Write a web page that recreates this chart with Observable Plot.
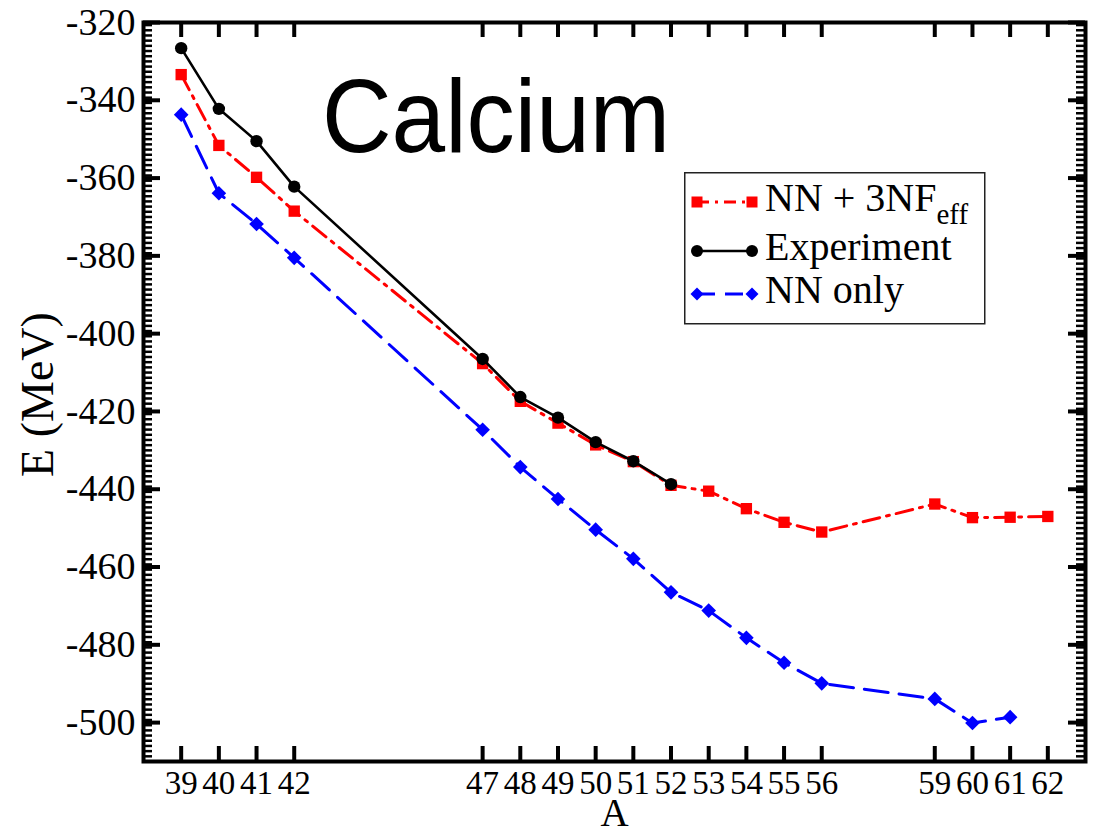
<!DOCTYPE html>
<html>
<head>
<meta charset="utf-8">
<script src="https://cdn.jsdelivr.net/npm/d3@7"></script>
<script src="https://cdn.jsdelivr.net/npm/@observablehq/plot@0.6"></script>
<style>
  html, body { margin: 0; padding: 0; background: #fff; }
  #wrap { position: relative; width: 1093px; height: 834px; }
  #wrap > svg.overlay { position: absolute; left: 0; top: 0; pointer-events: none; }
</style>
</head>
<body>
<div id="wrap"></div>
<script>
// ---- data ----
const expA   = [39, 40, 41, 42, 47, 48, 49, 50, 51, 52];
const expE   = [-326.6, -342.2, -350.5, -362.2, -406.5, -416.3, -421.6, -427.9, -432.8, -438.7];

const nn3nfA = [39, 40, 41, 42, 47, 48, 49, 50, 51, 52, 53, 54, 55, 56, 59, 60, 61, 62];
const nn3nfE = [-333.4, -351.6, -359.8, -368.5, -407.7, -417.4, -423.0, -428.6, -432.9, -439.0,
                -440.5, -445.0, -448.5, -451.0, -443.8, -447.3, -447.2, -447.0];

const nnOnlyA = [39, 40, 41, 42, 47, 48, 49, 50, 51, 52, 53, 54, 55, 56, 59, 60, 61];
const nnOnlyE = [-343.7, -363.9, -371.8, -380.5, -424.7, -434.3, -442.5, -450.4, -457.9, -466.5,
                 -471.2, -478.2, -484.6, -489.9, -493.9, -500.1, -498.6];

const xTicks = [39, 40, 41, 42, 47, 48, 49, 50, 51, 52, 53, 54, 55, 56, 59, 60, 61, 62];
const yTicks = [-500, -480, -460, -440, -420, -400, -380, -360, -340, -320];
const xDomain = [38, 63];
const yDomain = [-510, -320];

const seriesLabels = ["NN + 3NF", "Experiment", "NN only"];
const titleText = "Calcium";
const xLabel = "A";
const yLabel = "E (MeV)";

// ---- build tables ----
const expData = expA.map((a, i) => ({A: a, E: expE[i]}));
const nn3nfData = nn3nfA.map((a, i) => ({A: a, E: nn3nfE[i]}));
const nnOnlyData = nnOnlyA.map((a, i) => ({A: a, E: nnOnlyE[i]}));
const minorY = d3.range(0, 143).map(i => -510 + i * 4 / 3)
  .filter(v => v <= -320.01 && !yTicks.some(t => Math.abs(t - v) < 0.3));

const W = 1093, H = 834;
const mL = 143, mR = 8, mT = 22, mB = 73;
const fw = W - mL - mR, fh = H - mT - mB;

const chart = Plot.plot({
  width: W, height: H,
  marginLeft: mL, marginRight: mR, marginTop: mT, marginBottom: mB,
  style: {fontFamily: "'Liberation Serif', 'Times New Roman', serif", color: "black", background: "white"},
  x: {domain: xDomain},
  y: {domain: yDomain},
  marks: [
    // tick labels
    Plot.axisX({anchor: "bottom", ticks: xTicks, tickSize: 0, tickPadding: 9, fontSize: 33, label: null, tickFormat: d => String(d)}),
    Plot.axisY({anchor: "left", ticks: yTicks, tickSize: 0, tickPadding: 8, fontSize: 38, label: null, tickFormat: d => String(d)}),
    // inward minor ticks (left & right)
    Plot.ruleY(minorY, {y: d => d, insetRight: fw - 9, strokeWidth: 2.5}),
    Plot.ruleY(minorY, {y: d => d, insetLeft: fw - 9, strokeWidth: 2.5}),
    // inward major ticks
    Plot.ruleY(yTicks, {y: d => d, insetRight: fw - 17, strokeWidth: 4}),
    Plot.ruleY(yTicks, {y: d => d, insetLeft: fw - 17, strokeWidth: 4}),
    Plot.ruleX(xTicks, {x: d => d, insetTop: fh - 15, strokeWidth: 4}),
    Plot.ruleX(xTicks, {x: d => d, insetBottom: fh - 15, strokeWidth: 4}),
    // series
    Plot.line(nn3nfData, {x: "A", y: "E", stroke: "#ff0000", strokeWidth: 3, strokeDasharray: "17,7,3,7"}),
    Plot.dot(nn3nfData, {x: "A", y: "E", symbol: "square", fill: "#ff0000", r: 6.4}),
    Plot.line(nnOnlyData, {x: "A", y: "E", stroke: "#0000ff", strokeWidth: 3, strokeDasharray: "24,11"}),
    Plot.dot(nnOnlyData, {x: "A", y: "E", symbol: "diamond2", fill: "#0000ff", r: 6.6}),
    Plot.line(expData, {x: "A", y: "E", stroke: "black", strokeWidth: 2.6}),
    Plot.dot(expData, {x: "A", y: "E", symbol: "circle", fill: "black", r: 6.2}),
    // frame
    Plot.frame({stroke: "black", strokeWidth: 4}),
    // x axis title
    Plot.text([xLabel], {frameAnchor: "bottom", lineAnchor: "top", dy: 37, fontSize: 39, fill: "black"})
  ]
});

const wrap = document.getElementById("wrap");
wrap.appendChild(chart);

// ---- overlay: y title, chart title and legend ----
const ov = d3.select(wrap).append("svg")
  .attr("class", "overlay").attr("width", W).attr("height", H);

ov.append("text")
  .attr("transform", `translate(53,${mT + fh / 2 + 3}) rotate(-90)`)
  .attr("text-anchor", "middle")
  .attr("font-family", "'Liberation Serif', 'Times New Roman', serif")
  .attr("font-size", 46)
  .text(yLabel);

ov.append("text")
  .attr("x", 322).attr("y", 152)
  .attr("font-family", "'Liberation Sans', Arial, Helvetica, sans-serif")
  .attr("font-size", 104)
  .attr("textLength", 348).attr("lengthAdjust", "spacingAndGlyphs")
  .text(titleText);

const lg = ov.append("g").attr("transform", "translate(684,172)");
lg.append("rect").attr("x", 0.75).attr("y", 0.75).attr("width", 300).attr("height", 151)
  .attr("fill", "white").attr("stroke", "#222").attr("stroke-width", 1.5);

const rows = [
  {label: seriesLabels[0], color: "#ff0000", dash: "12,6,3,6", sym: "square", base: 39},
  {label: seriesLabels[1], color: "black", dash: null, sym: "circle", base: 88},
  {label: seriesLabels[2], color: "#0000ff", dash: "18,10", sym: "diamond", base: 131}
];
rows.forEach(r => {
  const ly = r.base - 9;
  lg.append("line").attr("x1", 13).attr("x2", 68).attr("y1", ly).attr("y2", ly)
    .attr("stroke", r.color).attr("stroke-width", r.sym === "circle" ? 2.6 : 3)
    .attr("stroke-dasharray", r.dash);
  [13, 68].forEach(cx => {
    if (r.sym === "square") {
      lg.append("rect").attr("x", cx - 5.5).attr("y", ly - 5.5).attr("width", 11).attr("height", 11).attr("fill", r.color);
    } else if (r.sym === "circle") {
      lg.append("circle").attr("cx", cx).attr("cy", ly).attr("r", 6).attr("fill", r.color);
    } else {
      lg.append("path").attr("d", `M${cx},${ly - 6.5}L${cx + 6.5},${ly}L${cx},${ly + 6.5}L${cx - 6.5},${ly}Z`).attr("fill", r.color);
    }
  });
  const t = lg.append("text").attr("x", 81).attr("y", r.base)
    .attr("font-family", "'Liberation Serif', 'Times New Roman', serif")
    .attr("font-size", 40).attr("fill", "black").text(r.label);
  if (r.sym === "square") {
    t.append("tspan").attr("dy", 13).attr("font-size", 29).text("eff");
  }
});
</script>
</body>
</html>
